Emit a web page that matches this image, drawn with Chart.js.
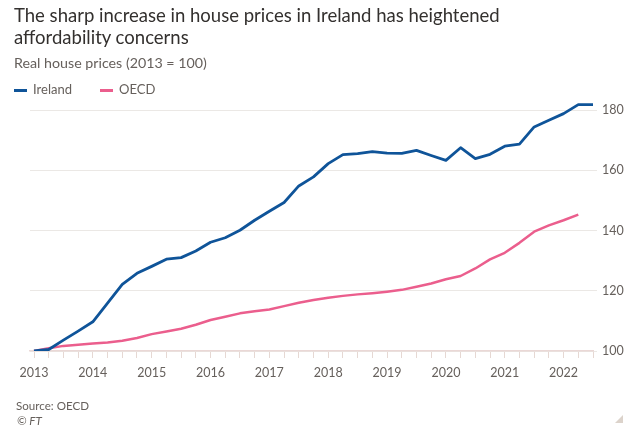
<!DOCTYPE html>
<html><head><meta charset="utf-8">
<script src="https://cdn.jsdelivr.net/npm/chart.js@4.4.0/dist/chart.umd.min.js"></script>
<style>
html,body{margin:0;padding:0;background:#fff;}
#wrap{position:relative;width:640px;height:441px;overflow:hidden;font-family:Lato,sans-serif;}
canvas{position:absolute;left:0;top:0;}
.t{position:absolute;white-space:nowrap;line-height:1.2;color:#66605c;font-family:Lato,sans-serif;}
.mk{position:absolute;height:3px;width:13px;}
#tri{position:absolute;left:615px;top:415px;width:0;height:0;border-left:8px solid transparent;border-bottom:8px solid #dcd3cb;}
</style></head><body>
<div id="wrap">
<canvas id="c" width="640" height="441"></canvas>
<div class="t" id="title1" style="color:#33302e">The sharp increase in house prices in Ireland has heightened</div>
<div class="t" id="title2" style="color:#33302e">affordability concerns</div>
<div class="t" id="sub">Real house prices (2013 = 100)</div>
<div class="mk" style="left:14px;top:89px;background:#0f5499"></div>
<div class="t" id="lg1">Ireland</div>
<div class="mk" style="left:100px;top:89px;background:#eb5e8d"></div>
<div class="t" id="lg2">OECD</div>
<div class="t" id="src">Source: OECD</div>
<div class="t" id="ft" style="font-style:italic">© FT</div>
<div id="tri"></div>
</div>
<script>
// ---- data ----
const quarters = [
 '2013 Q1','2013 Q2','2013 Q3','2013 Q4','2014 Q1','2014 Q2','2014 Q3','2014 Q4',
 '2015 Q1','2015 Q2','2015 Q3','2015 Q4','2016 Q1','2016 Q2','2016 Q3','2016 Q4',
 '2017 Q1','2017 Q2','2017 Q3','2017 Q4','2018 Q1','2018 Q2','2018 Q3','2018 Q4',
 '2019 Q1','2019 Q2','2019 Q3','2019 Q4','2020 Q1','2020 Q2','2020 Q3','2020 Q4',
 '2021 Q1','2021 Q2','2021 Q3','2021 Q4','2022 Q1','2022 Q2','2022 Q3'
];
const ireland = [
 100.0,100.5,103.6,106.6,109.7,115.9,122.1,125.8,
 128.1,130.5,131.0,133.2,136.1,137.6,140.1,143.4,
 146.4,149.3,154.8,157.8,162.2,165.2,165.5,166.2,
 165.7,165.6,166.6,164.9,163.3,167.5,163.9,165.3,
 168.0,168.7,174.4,176.6,178.8,181.8,181.8
];
const oecd = [
 100.0,100.9,101.7,102.1,102.5,102.8,103.4,104.3,
 105.6,106.5,107.4,108.7,110.3,111.4,112.5,113.2,
 113.8,114.9,116.0,116.9,117.7,118.3,118.8,119.2,
 119.7,120.3,121.3,122.4,123.8,124.9,127.4,130.4,
 132.6,135.9,139.6,141.7,143.4,145.3
];
const yTicks = [100,120,140,160,180];

// ---- text layout ----
const mctx = document.createElement('canvas').getContext('2d');
function fitSize(text, style, target){
  mctx.font = style + ' 20px Lato';
  return 20 * target / mctx.measureText(text).width;
}
function place(id, x, baseline, size){
  const el = document.getElementById(id);
  el.style.fontSize = size + 'px';
  el.style.left = x + 'px';
  el.style.top = (baseline - 0.987*size) + 'px';
}
const tSize = fitSize('The sharp increase in house prices in Ireland has heightened','normal',486);
place('title1',14,22,tSize);
place('title2',14,44,tSize);
place('sub',14,68,fitSize('Real house prices (2013 = 100)','normal',193));
const lSize = fitSize('Ireland','normal',39);
place('lg1',33,94.5,lSize);
place('lg2',119,94.5,lSize);
const sSize = fitSize('Source: OECD','normal',73);
place('src',16,410,sSize);
place('ft',17,425.5,sSize);

// ---- chart ----
const toNum = q => { const [y,qq] = q.split(' Q'); return +y + (+qq-1)/4; };
const xs = quarters.map(toNum);
const pxPerYear = 58.84;
new Chart(document.getElementById('c'), {
  type: 'line',
  data: {
    datasets: [
      { label:'Ireland', data: ireland.map((v,i)=>({x:xs[i],y:v})), borderColor:'#0f5499', borderWidth:2.8, pointRadius:0, tension:0, borderJoinStyle:'round' },
      { label:'OECD', data: oecd.map((v,i)=>({x:xs[i],y:v})), borderColor:'#eb5e8d', borderWidth:2.5, pointRadius:0, tension:0, borderJoinStyle:'round' }
    ]
  },
  options: {
    responsive:false, animation:false,
    layout:{ padding:{ left:30, top:101, right:0, bottom:0 } },
    plugins:{ legend:{display:false}, title:{display:false}, tooltip:{enabled:false} },
    scales:{
      x:{
        type:'linear', position:'bottom',
        min: xs[0] - 4/pxPerYear, max: xs[xs.length-1],
        afterBuildTicks: s => { s.ticks = xs.map(v=>({value:v})); },
        afterFit: s => { s.height = 90; },
        ticks:{ autoSkip:false, maxRotation:0, padding:7, color:'#66605c', font:{family:'Lato', size:12.5},
          callback: v => Number.isInteger(v) ? String(v) : '' },
        grid:{ drawOnChartArea:false, drawTicks:true, tickLength:7, color:'#e6d8d3', tickColor:'#e6d8d3' },
        border:{ display:true, color:'#ead8d6', width:1.5 }
      },
      y:{
        type:'linear', position:'right', min:100, max:183,
        afterBuildTicks: s => { s.ticks = yTicks.map(v=>({value:v})); },
        afterFit: s => { s.width = 47; },
        ticks:{ padding:5, color:'#66605c', font:{family:'Lato', size:12.5}, callback: v => String(v) },
        grid:{ color:'#ebe8e5', drawTicks:true, tickLength:4, tickColor:'#ebe8e5' },
        border:{ display:false }
      }
    }
  }
});
</script>
</body></html>
